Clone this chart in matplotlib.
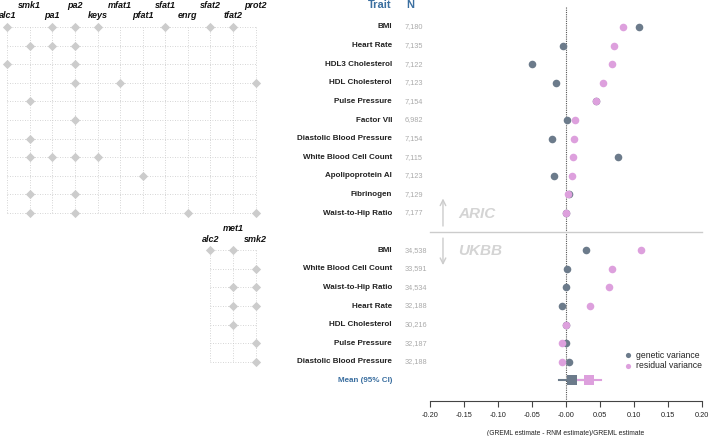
import numpy as np
import matplotlib
matplotlib.use("Agg")
import matplotlib.pyplot as plt

plt.rcParams['font.family'] = ['Liberation Sans', 'DejaVu Sans']

# ---- data ----
aric_traits = ["BMI", "Heart Rate", "HDL3 Cholesterol", "HDL Cholesterol", "Pulse Pressure",
               "Factor VII", "Diastolic Blood Pressure", "White Blood Cell Count",
               "Apolipoprotein AI", "Fibrinogen", "Waist-to-Hip Ratio"]
aric_n = ["7,180", "7,135", "7,122", "7,123", "7,154", "6,982", "7,154", "7,115", "7,123", "7,129", "7,177"]
aric_gen = [0.107, -0.005, -0.050, -0.015, 0.044, 0.002, -0.021, 0.077, -0.018, 0.005, 0.000]
aric_res = [0.084, 0.071, 0.067, 0.054, 0.044, 0.013, 0.012, 0.010, 0.009, 0.003, 0.000]

ukbb_traits = ["BMI", "White Blood Cell Count", "Waist-to-Hip Ratio", "Heart Rate",
               "HDL Cholesterol", "Pulse Pressure", "Diastolic Blood Pressure"]
ukbb_n = ["34,538", "33,591", "34,534", "32,188", "30,216", "32,187", "32,188"]
ukbb_gen = [0.030, 0.001, 0.000, -0.006, 0.000, 0.000, 0.004]
ukbb_res = [0.111, 0.067, 0.063, 0.035, 0.000, -0.006, -0.006]

mean_gen, mean_gen_ci = 0.009, (-0.010, 0.027)
mean_res, mean_res_ci = 0.034, (0.016, 0.052)

aric_vars = ["alc1", "smk1", "pa1", "pa2", "keys", "mfat1", "pfat1", "sfat1", "enrg", "sfat2", "tfat2", "prot2"]
aric_sel = [["alc1", "pa1", "pa2", "keys", "sfat1", "sfat2", "tfat2"],
            ["smk1", "pa1", "pa2"],
            ["alc1", "pa2"],
            ["pa2", "mfat1", "prot2"],
            ["smk1"],
            ["pa2"],
            ["smk1"],
            ["smk1", "pa1", "pa2", "keys"],
            ["pfat1"],
            ["smk1", "pa2"],
            ["smk1", "pa2", "enrg", "prot2"]]
ukbb_vars = ["alc2", "met1", "smk2"]
ukbb_sel = [["alc2", "met1"], ["smk2"], ["met1", "smk2"], ["met1", "smk2"],
            ["met1"], ["smk2"], ["smk2"]]

gen_col = "#6c7b8b"
res_col = "#dda0dd"
blue = "#3b6fa0"
light = "#cccccc"

fig = plt.figure(figsize=(7.09, 4.36), dpi=100)
W, H = 709, 436
ylim = ((H - 27) / 18.6, -27 / 18.6)   # row index coordinates

ya = np.arange(len(aric_traits))
yu = 12 + np.arange(len(ukbb_traits))
ym = 19

# ---- dot plot ----
ax = fig.add_axes([430 / W, 0, 272 / W, 1])
ax.set_xlim(-0.2, 0.2)
ax.set_ylim(*ylim)
for s in ["top", "right", "left"]:
    ax.spines[s].set_visible(False)
ax.spines["bottom"].set_position(("data", 20.1))
ax.spines["bottom"].set_bounds(-0.2, 0.2)
ax.spines["bottom"].set_color("#444444")
ax.spines["bottom"].set_linewidth(0.8)
ax.set_yticks([])
ticks = np.arange(-0.2, 0.201, 0.05)
ax.set_xticks(ticks)
ax.set_xticklabels(["%.2f" % t for t in ticks], fontsize=5.3, color="#222222")
ax.tick_params(axis="x", length=4, width=0.8, color="#444444", pad=4)
ax.text(0, 21.85, "(GREML estimate - RNM estimate)/GREML estimate", ha="center", va="center",
        fontsize=4.9, color="#222222")

ax.plot([0, 0], [-1.08, 20.05], ls=(0, (1, 1)), color="#555555", lw=0.8, zorder=1)
ax.plot([-0.2, 0.2], [11.0, 11.0], color=light, lw=1.0, clip_on=False)

ax.scatter(aric_gen, ya, s=30, color=gen_col, zorder=3, linewidths=0)
ax.scatter(aric_res, ya, s=30, color=res_col, zorder=4, linewidths=0)
ax.scatter(ukbb_gen, yu, s=30, color=gen_col, zorder=3, linewidths=0)
ax.scatter(ukbb_res, yu, s=30, color=res_col, zorder=4, linewidths=0)

ax.plot(mean_gen_ci, [ym, ym], color=gen_col, lw=1.5, zorder=3)
ax.plot(mean_res_ci, [ym, ym], color=res_col, lw=1.5, zorder=4)
ax.scatter([mean_gen], [ym], s=60, marker="s", color=gen_col, zorder=5, linewidths=0)
ax.scatter([mean_res], [ym], s=60, marker="s", color=res_col, zorder=5, linewidths=0)

# ARIC / UKBB arrows
ax.annotate("", xy=(-0.1809, 9.07), xytext=(-0.1809, 10.85),
            arrowprops=dict(arrowstyle="->", color=light, lw=1.0))
ax.annotate("", xy=(-0.1809, 12.95), xytext=(-0.1809, 11.2),
            arrowprops=dict(arrowstyle="->", color=light, lw=1.0))
ax.text(-0.1588, 10.05, "ARIC", fontsize=11, fontweight="bold", style="italic",
        color="#d4d4d4", va="center", ha="left")
ax.text(-0.1588, 12.05, "UKBB", fontsize=11, fontweight="bold", style="italic",
        color="#d4d4d4", va="center", ha="left")

# legend
ax.scatter([0.091], [17.65], s=14, color=gen_col, linewidths=0, clip_on=False)
ax.scatter([0.091], [18.2], s=14, color=res_col, linewidths=0, clip_on=False)
ax.text(0.1035, 17.65, "genetic variance", fontsize=6.2, va="center", color="#222222")
ax.text(0.1035, 18.2, "residual variance", fontsize=6.2, va="center", color="#222222")

# trait labels and N
tr = ax.get_yaxis_transform()
xl = (392 - 430) / 272
xn = (405 - 430) / 272
ax.text(xl, -1.18, "Trait", transform=tr, ha="right", va="center", fontsize=8,
        fontweight="bold", color=blue)
ax.text(xn + 0.005, -1.18, "N", transform=tr, ha="left", va="center", fontsize=8,
        fontweight="bold", color=blue)
for y, t, n in zip(list(ya) + list(yu), aric_traits + ukbb_traits, aric_n + ukbb_n):
    ax.text(xl, y, t, transform=tr, ha="right", va="center", fontsize=5.8,
            fontweight="bold", color="#222222")
    ax.text(xn, y, n, transform=tr, ha="left", va="center", fontsize=5.3, color="#aaaaaa")
ax.text(xl, ym, "Mean (95% CI)", transform=tr, ha="right", va="center", fontsize=5.8,
        fontweight="bold", color=blue)

# ---- variable selection grids ----
gx = fig.add_axes([0, 0, 280 / W, 1])
gx.set_xlim(-7.3 / 22.57, (280 - 7.3) / 22.57)
gx.set_ylim(*ylim)
gx.axis("off")
grid_kw = dict(color="#c8c8c8", lw=0.6, ls=(0, (1, 2)), zorder=1)

na = len(aric_vars)
for y in ya:
    gx.plot([0, na - 1], [y, y], **grid_kw)
for k in range(na):
    gx.plot([k, k], [ya[0], ya[-1]], **grid_kw)
for k, v in enumerate(aric_vars):
    gx.text(k, -0.64 if k % 2 == 0 else -1.18, v, ha="center", va="center", fontsize=6.5,
            fontweight="bold", style="italic", color="#111111")
for y, sel in zip(ya, aric_sel):
    xs = [aric_vars.index(v) for v in sel]
    gx.scatter(xs, [y] * len(xs), marker="D", s=22, color=light, zorder=3, linewidths=0,
               clip_on=False)

off = na - len(ukbb_vars)
for y in yu:
    gx.plot([off, na - 1], [y, y], **grid_kw)
for k in range(len(ukbb_vars)):
    gx.plot([off + k, off + k], [yu[0], yu[-1]], **grid_kw)
for k, v in enumerate(ukbb_vars):
    gx.text(off + k, 11.45 if k % 2 == 0 else 10.86, v, ha="center", va="center",
            fontsize=6.5, fontweight="bold", style="italic", color="#111111")
for y, sel in zip(yu, ukbb_sel):
    xs = [off + ukbb_vars.index(v) for v in sel]
    gx.scatter(xs, [y] * len(xs), marker="D", s=22, color=light, zorder=3, linewidths=0)

fig.savefig("out.png", dpi=100)
